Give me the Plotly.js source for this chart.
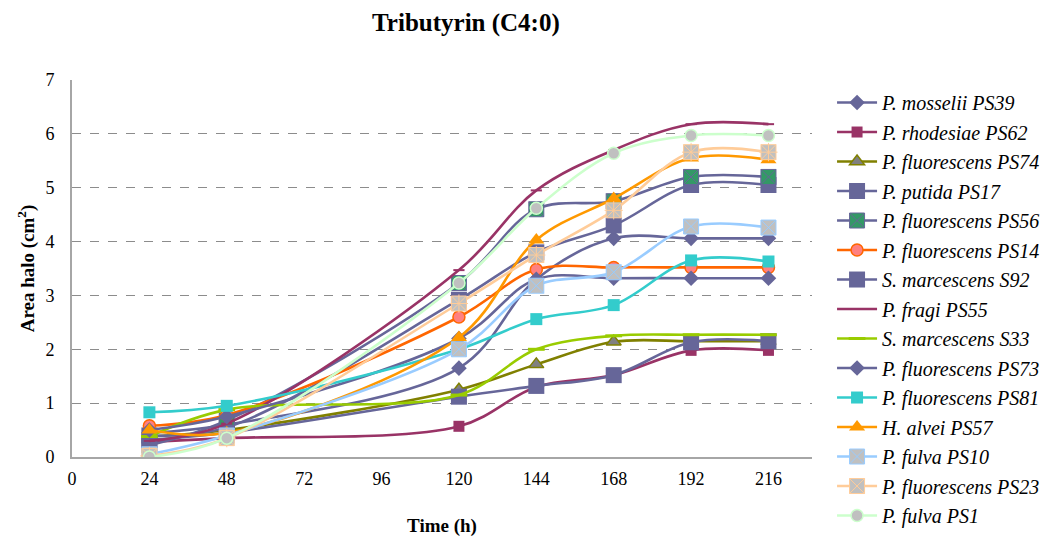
<!DOCTYPE html>
<html>
<head>
<meta charset="utf-8">
<script src="https://cdn.plot.ly/plotly-3.0.1.min.js"></script>
<style>html,body{margin:0;padding:0;background:#fff}#chart{width:1047px;height:537px}</style>
</head>
<body>
<div id="chart"></div>
<script>
// Time points (h)
const time = [24, 48, 120, 144, 168, 192, 216];

// Area halo (cm2) per strain
const mosselii_PS39    = [0.45, 0.60, 1.65, 3.30, 4.06, 4.06, 4.06];
const rhodesiae_PS62   = [0.28, 0.35, 0.57, 1.30, 1.52, 1.98, 1.98];
const fluorescens_PS74 = [0.38, 0.50, 1.25, 1.72, 2.14, 2.15, 2.15];
const putida_PS17      = [0.40, 0.55, 2.92, 3.80, 4.30, 5.05, 5.05];
const fluorescens_PS56 = [0.22, 0.68, 3.23, 4.60, 4.75, 5.20, 5.20];
const fluorescens_PS14 = [0.58, 0.78, 2.60, 3.48, 3.52, 3.52, 3.52];
const marcescens_S92   = [0.32, 0.45, 1.12, 1.32, 1.52, 2.13, 2.15];
const fragi_PS55       = [0.30, 0.62, 3.47, 4.95, 5.70, 6.18, 6.18];
const marcescens_S33   = [0.38, 0.88, 1.15, 2.00, 2.25, 2.27, 2.27];
const fluorescens_PS73 = [0.50, 0.75, 2.20, 3.30, 3.32, 3.32, 3.32];
const fluorescens_PS81 = [0.83, 0.95, 2.00, 2.56, 2.82, 3.65, 3.63];
const alvei_PS57       = [0.50, 0.45, 2.22, 4.03, 4.80, 5.55, 5.52];
const fulva_PS10       = [0.05, 0.40, 2.00, 3.18, 3.43, 4.28, 4.26];
const fluorescens_PS23 = [0.02, 0.35, 2.85, 3.75, 4.58, 5.66, 5.66];
const fulva_PS1        = [0.00, 0.35, 3.23, 4.62, 5.64, 5.97, 5.97];

const xTicks = [0, 24, 48, 72, 96, 120, 144, 168, 192, 216];
const yTicks = [0, 1, 2, 3, 4, 5, 6, 7];

let gid = 0;
function tr(name, y, lineColor, symbol, size, fill, mline, mlw) {
  gid += 1;
  return {
    type: 'scatter', mode: 'lines+markers', x: time, y: y,
    name: '<i>' + name + '</i>', legendgroup: 'g' + gid,
    line: {color: lineColor, width: 2.6, shape: 'spline', smoothing: 1},
    marker: {symbol: symbol, size: size, color: fill, line: {color: mline, width: mlw}}
  };
}

const traces = [
  tr('P. mosselii PS39', mosselii_PS39, '#666699', 'diamond', 12, '#666699', '#666699', 0),
  tr('P. rhodesiae PS62', rhodesiae_PS62, '#993366', 'square', 11, '#993366', '#993366', 0),
  tr('P. fluorescens PS74', fluorescens_PS74, '#808000', 'triangle-up', 13, '#808080', '#808000', 1.5),
  tr('P. putida PS17', putida_PS17, '#666699', 'square', 16, '#666699', '#666699', 0),
  tr('P. fluorescens PS56', fluorescens_PS56, '#666699', 'square-x', 15, '#339966', '#666699', 1),
  tr('P. fluorescens PS14', fluorescens_PS14, '#FF6600', 'circle', 12, '#FF8080', '#FF6600', 1.5),
  tr('S. marcescens S92', marcescens_S92, '#666699', 'square', 16, '#666699', '#666699', 0),
  tr('P. fragi PS55', fragi_PS55, '#993366', 'line-ew', 8, '#993366', '#993366', 2),
  tr('S. marcescens S33', marcescens_S33, '#99CC00', 'line-ew', 12, '#99CC00', '#99CC00', 3),
  tr('P. fluorescens PS73', fluorescens_PS73, '#666699', 'diamond', 12, '#666699', '#666699', 0),
  tr('P. fluorescens PS81', fluorescens_PS81, '#33CCCC', 'square', 12, '#33CCCC', '#33CCCC', 0),
  tr('H. alvei PS57', alvei_PS57, '#FF9900', 'triangle-up', 14, '#FF9900', '#FF9900', 0),
  tr('P. fulva PS10', fulva_PS10, '#99CCFF', 'square-x', 15, '#C0C0C0', '#99CCFF', 1),
  tr('P. fluorescens PS23', fluorescens_PS23, '#FFCC99', 'square-x', 15, '#C0C0C0', '#FFCC99', 1)
];
const ps23Group = traces[traces.length - 1].legendgroup;
traces.push({type: 'scatter', mode: 'markers', x: time, y: fluorescens_PS23, showlegend: false,
  legendgroup: ps23Group, hoverinfo: 'skip',
  marker: {symbol: 'cross-thin-open', size: 13, color: '#FFCC99', line: {color: '#FFCC99', width: 1}}});
traces.push(tr('P. fulva PS1', fulva_PS1, '#CCFFCC', 'circle', 12, '#C0C0C0', '#CCFFCC', 1.5));

const serif = '"Liberation Serif", "Times New Roman", serif';
const layout = {
  width: 1047, height: 537,
  margin: {l: 72, r: 235, t: 80, b: 80, autoexpand: false},
  paper_bgcolor: '#ffffff', plot_bgcolor: '#ffffff',
  font: {family: serif, size: 18, color: '#000'},
  title: {text: '<b>Tributyrin (C4:0)</b>', x: 0.445, xanchor: 'center', y: 0.958, yanchor: 'middle',
          font: {family: serif, size: 25, color: '#000'}},
  xaxis: {
    range: [0, 229.5], tickmode: 'array', tickvals: xTicks, ticktext: xTicks.map(String),
    showgrid: false, zeroline: false, showline: true, linecolor: '#A6A6A6', linewidth: 2,
    ticks: '', ticklabelstandoff: 4, tickfont: {family: serif, size: 18, color: '#000'},
    title: {text: '<b>Time (h)</b>', font: {family: serif, size: 19, color: '#000'}, standoff: 32}
  },
  yaxis: {
    range: [0, 7], tickmode: 'array', tickvals: yTicks, ticktext: yTicks.map(String),
    showgrid: true, gridcolor: '#8C8C8C', griddash: 'dash', gridwidth: 1,
    zeroline: false, showline: true, linecolor: '#A6A6A6', linewidth: 2,
    ticks: '', ticklabelstandoff: 12, tickfont: {family: serif, size: 18, color: '#000'},
    title: {text: '<b>Area halo (cm<sup>2</sup>)</b>', font: {family: serif, size: 19, color: '#000'}, standoff: 6}
  },
  legend: {
    xref: 'container', yref: 'container',
    x: 0.7947, xanchor: 'left', y: 0.8454, yanchor: 'top',
    font: {family: serif, size: 20, color: '#000'},
    bgcolor: 'rgba(0,0,0,0)', itemwidth: 40, tracegroupgap: 0.5, maxheight: 537
  },
  showlegend: true
};

Plotly.newPlot('chart', traces, layout, {displayModeBar: false, staticPlot: true});
</script>
</body>
</html>
